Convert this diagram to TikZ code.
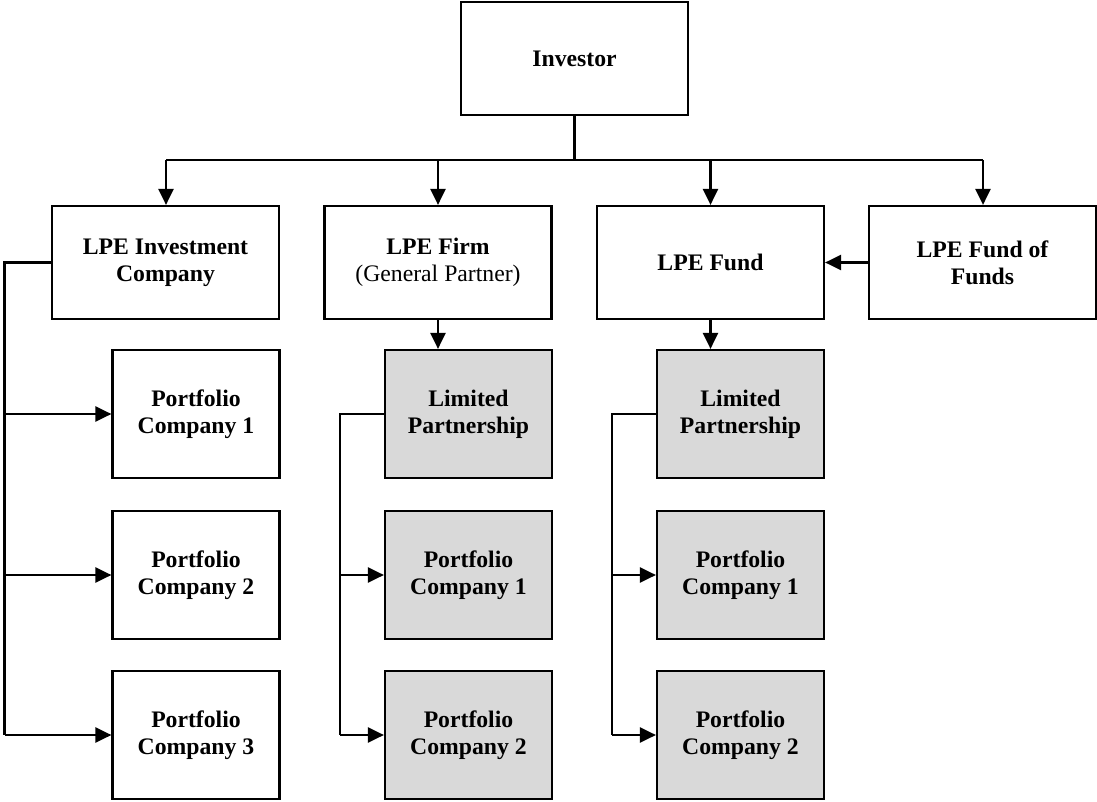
\documentclass[tikz,border=0pt]{standalone}
\usepackage{fontspec}
\setmainfont{Liberation Serif}
\usetikzlibrary{arrows.meta}
\begin{document}
\begin{tikzpicture}[x=1pt,y=-1pt,
  box/.style={draw=black,line width=2.2pt,fill=white,align=center,inner sep=0pt,
    font=\fontsize{23.7}{27}\selectfont\bfseries},
  bigbox/.style={box,minimum width=227pt,minimum height=113pt},
  smallbox/.style={box,minimum width=167pt,minimum height=128pt},
  grey/.style={fill={rgb,255:red,217;green,217;blue,217}},
  conn/.style={line width=2.3pt},
  arr/.style={conn,-{Triangle[length=16pt,width=15pt]}}]
\useasboundingbox (0,0) rectangle (1097,802);
% top
\node[bigbox] (inv) at (574.5,58.5) {Investor};
% row 1
\node[bigbox] (lic) at (165.5,262.5) {LPE Investment\\Company};
\node[bigbox] (firm) at (438,262.5) {LPE Firm\\{\normalfont(General Partner)}};
\node[bigbox] (fund) at (710.5,262.5) {LPE Fund};
\node[bigbox] (fof) at (982.5,262.5) {LPE Fund of\\Funds};
% column 1
\node[smallbox] (pa1) at (196,414) {Portfolio\\Company 1};
\node[smallbox] (pa2) at (196,575) {Portfolio\\Company 2};
\node[smallbox] (pa3) at (196,735) {Portfolio\\Company 3};
% column 2
\node[smallbox,grey] (lpb) at (468.5,414) {Limited\\Partnership};
\node[smallbox,grey] (pb1) at (468.5,575) {Portfolio\\Company 1};
\node[smallbox,grey] (pb2) at (468.5,735) {Portfolio\\Company 2};
% column 3
\node[smallbox,grey] (lpc) at (740.5,414) {Limited\\Partnership};
\node[smallbox,grey] (pc1) at (740.5,575) {Portfolio\\Company 1};
\node[smallbox,grey] (pc2) at (740.5,735) {Portfolio\\Company 2};
% bus
\coordinate (bus) at (574.5,160);
\coordinate (busL) at (166,160);
\coordinate (busR) at (983,160);
\draw[conn] (inv.south) -- (bus);
\draw[conn] (busL) -- (busR);
\draw[arr] (busL) -- (busL |- lic.north);
\draw[arr] (firm.north |- bus) -- (firm.north);
\draw[arr] (fund.north |- bus) -- (fund.north);
\draw[arr] (busR) -- (busR |- fof.north);
% fof -> fund
\draw[arr] (fof.west) -- (fund.east);
% firm/fund -> LP
\draw[arr] (firm.south) -- (firm.south |- lpb.north);
\draw[arr] (fund.south) -- (fund.south |- lpc.north);
% spine A
\coordinate (sA) at (4.5,0);
\draw[conn] (lic.west) -- (lic.west -| sA) -- (sA |- pa3.west);
\draw[arr] (sA |- pa1.west) -- (pa1.west);
\draw[arr] (sA |- pa2.west) -- (pa2.west);
\draw[arr] (sA |- pa3.west) -- (pa3.west);
% spine B
\coordinate (sB) at (340,0);
\draw[conn] (lpb.west) -- (lpb.west -| sB) -- (sB |- pb2.west);
\draw[arr] (sB |- pb1.west) -- (pb1.west);
\draw[arr] (sB |- pb2.west) -- (pb2.west);
% spine C
\coordinate (sC) at (612,0);
\draw[conn] (lpc.west) -- (lpc.west -| sC) -- (sC |- pc2.west);
\draw[arr] (sC |- pc1.west) -- (pc1.west);
\draw[arr] (sC |- pc2.west) -- (pc2.west);
\end{tikzpicture}
\end{document}
